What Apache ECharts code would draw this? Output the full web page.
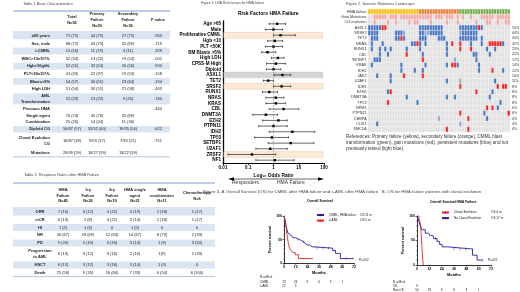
<!DOCTYPE html>
<html>
<head>
<meta charset="utf-8">
<title>HMA failure poster</title>
<script src="https://cdn.jsdelivr.net/npm/echarts@6/dist/echarts.min.js"></script>
<style>
  html, body { margin: 0; padding: 0; background: #fff; }
  #poster { width: 520px; height: 292px; }
</style>
</head>
<body>
<div id="poster"></div>
<script>
// ---- Table 1: basic characteristics ----
const t1Headers = ["Total\nN=95", "Primary\nFailure\nN=59", "Secondary\nFailure\nN=36", "P value"];
const t1Labels = ["≥65 years", "Sex, male", "t-CMML", "WBC>13x10⁹/L", "Hgb<10g/dL", "PLT<50x10⁹/L", "Blasts>5%", "High LDH",
  "AML\nTransformation", "Previous HMA", "Single agent", "Combination", "Diploid CG", "Clonal Evolution\nCG", "Mutations"];
const t1Total = ["71 (75)", "68 (72)", "15 (16)", "32 (34)", "52 (55)", "41 (43)", "54 (57)", "51 (54)", "22 (23)", "", "70 (74)", "25 (26)", "50/87 (57)", "16/87 (18)", "29/49 (59)"];
const t1Primary = ["44 (75)", "43 (73)", "11 (19)", "13 (22)", "32 (54)", "22 (37)", "30 (51)", "30 (51)", "13 (22)", "", "45 (76)", "14 (24)", "31/52 (60)", "9/53 (17)", "16/27 (59)"];
const t1Secondary = ["27 (75)", "25 (69)", "4 (11)", "19 (53)", "20 (56)", "19 (53)", "23 (64)", "21 (58)", "9 (25)", "", "25 (69)", "11 (30)", "19/35 (54)", "7/34 (21)", "13/22 (59)"];
const t1PValue = [".963", ".719", ".329", ".002", ".900", ".158", ".194", ".463", ".740", ".464", "", "", ".622", ".751", ""];

// ---- Table 2: response rates ----
const t2Headers = ["HMA\nFailure\nN=45", "1ry\nFailure\nN=26", "2ry\nFailure\nN=19", "HMA single\nagent\nN=21", "HMA\ncombination\nN=11", "Chemotherapy\nN=6"];
const t2Labels = ["ORR", "mCR", "HI", "NR", "PD", "Progression\nto AML", "HSCT", "Death"];
const t2HMA = ["7 (16)", "6 (13)", "1 (2)", "30 (67)", "9 (20)", "6 (13)", "6 (13)", "25 (56)"];
const t2Primary = ["3 (12)", "2 (8)", "1 (4)", "18 (69)", "5 (19)", "3 (12)", "3 (12)", "9 (35)"];
const t2Secondary = ["4 (21)", "4 (21)", "0", "12 (63)", "3 (16)", "3 (16)", "3 (16)", "16 (84)"];
const t2Single = ["4 (19)", "3 (14)", "1 (5)", "14 (67)", "3 (14)", "2 (10)", "3 (14)", "7 (33)"];
const t2Combo = ["2 (18)", "2 (18)", "0", "8 (73)", "1 (9)", "1(9)", "1 (9)", "6 (54)"];
const t2Chemo = ["1 (17)", "1 (17)", "0", "2 (33)", "3 (50)", "2 (33)", "0", "6 (100)"];

// ---- Figure 1: univariate odds ratios ----
const riskFactors = ["Age >65", "Male", "Proliferative CMML", "Hgb <10", "PLT <50K", "BM Blasts >5%", "High LDH", "CPSS-M High",
  "Diploid", "ASXL1", "TET2", "SRSF2", "RUNX1", "NRAS", "KRAS", "CBL", "DNMT3A", "EZH2", "PTPN11", "IDH2", "TP53", "SETBP1",
  "U2AF1", "ZRSF2", "NF1"];
const oddsRatio = [1.4, 1.0, 1.9, 1.13, 1.0, 0.58, 1.5, 1.24, 1.0, 2.25, 0.62, 2.1, 0.68, 1.24, 1.24, 2.5, 0.5, 1.57, 1.0, 5.6, 0.86, 4.8, 0.74, 0.14, 1.12];
const ciLow = [0.68, 0.48, 1.0, 0.58, 0.48, 0.34, 0.83, 0.53, 0.52, 1.06, 0.4, 1.0, 0.37, 0.5, 0.5, 0.68, 0.15, 0.37, 0.26, 0.68, 0.18, 0.62, 0.2, 0.016, 0.2];
const ciHigh = [3.0, 2.3, 7.3, 2.3, 2.3, 1.23, 2.6, 2.97, 1.95, 4.8, 1.0, 4.8, 1.43, 2.6, 3.0, 10, 1.43, 3.5, 3.5, 43, 3.9, 40, 3.5, 1.24, 6.5];

// ---- Figure 2: mutation landscape (one char per patient, groups of 10) ----
// Y/O/G failure type, p = flagged, b = persistent, r = gain, g = not previously tested, . = none
const hmaFailureRow = "YYYYYYYYYY YYYYYYYYYO OOOOOOOOOO OOOOGGGGGG GGGGGGGGGG GGG";
const gainMutRow    = "..ppppp.pp p.pppppppp pppp.ppp.p pp.p.p..p. ..ppppp.pp ppp";
const cgEvolRow     = "..p....p.. p....p.pp. ...p.....p ...p...... p...pp..p. .pp";
const mutGenes = ["ASXL1", "SRSF2", "TET2", "NRAS", "RUNX1", "CBL", "SETBP1", "KRAS", "IDH2", "JAK2", "U2AF1", "IDH1",
  "EZH2", "DNMT3A", "TP53", "NPM1", "PTPN11", "CEBPA", "CUX1", "SMC1A"];
const mutFreq = ["55%", "44%", "43%", "32%", "23%", "22%", "17%", "14%", "12%", "10%", "11%", "8%", "8%", "8%", "8%", "6%", "6%", "4%", "4%", "4%"];
const mutRows = [
  "bbbbbrr... .........b bbbbbbbb.. ....bbbbbb brb....... ...",
  "bbbb...... bbbg.....b bggbbbbb.. ....gbbbbb b......... ...",
  ".bbb...... bbrb.....b bb....bbb. ....bbbbbb b.b....... ...",
  ".b...b.... ......bbrb .b.......b .r..r...b. ..b..rrrrr b..",
  ".b..b.b.b. ....b....b .........b ....r...r. ....b..b.. ...",
  "....b..b.. ....r..... b........b .........b b....b.... ...",
  "..bbb..... .......... r......... ..g....... b......... ...",
  ".b........ ..b....... .b.......b .rrb...... .b........ ...",
  ".......... ..b....b.. b......... .......... .b....r... b..",
  "...b....b. ...r...... r......... .......... .......... ...",
  "........b. .......... .........b ....g..... .......b.. ...",
  ".......... .......... .......... ....r..... ........r. rr.",
  ".......br. .......... .......... .......... r.....b... ...",
  ".......... ....b..... .........b ..b....... .....b.... ...",
  ".......r.. ........b. .......... .......... .........b ...",
  ".......... .......... .......... .......... ....r.r.b. ...",
  ".......... .......... .......... ....r..... ...b...... ..r",
  ".......... .......... ......g... .......r.. ....b..... ...",
  "...b...... .......... .......... ....g..... .......... ...",
  ".......... .......... .........r .......r.. .......... ..."
];

// ---- Figure 3: Kaplan-Meier curves [month, % surviving] ----
const kmANames = ["CMML, HMA failure", "s-AML"];
const kmAMedian = ["OS 11 m", "OS 5 m"];
const osCmml = [[0, 100], [1, 93], [2, 82], [3, 72], [4, 64], [5, 60], [7, 57], [9, 54], [12, 51], [15, 48], [18, 45], [21, 42], [23, 39], [26, 35], [29, 32], [50, 27], [53, 21], [58, 10], [71, 10]];
const osSaml = [[0, 100], [1, 90], [1.7, 82], [2.5, 70], [3.5, 55], [4.5, 42], [5.5, 33], [7, 28], [9, 23], [11.5, 18], [15, 10], [29, 10]];
const censCmml = [[14, 51], [20, 45], [34, 32], [40, 32], [46, 32], [64, 10], [71, 10]];
const censSaml = [[29, 10]];
const kmBNames = ["Clonal Evolution", "No Clonal Evolution"];
const kmBMedian = ["OS 4 m", "OS 17 m"];
const osClonal = [[0, 100], [2, 95], [3.5, 82], [5, 30], [6, 0]];
const osNoClonal = [[0, 100], [1, 95], [2, 88], [3.5, 78], [5, 72], [8, 65], [11, 61], [13, 59], [16, 54], [19.5, 48], [22, 42], [24.5, 37], [30, 33], [52, 33], [54, 20], [58.5, 10], [63.5, 10]];
const censNoClonal = [[12, 61], [18, 54], [36, 33], [42, 33], [47, 33], [63.5, 10]];
const riskMonths = [0, 12, 24, 36, 48, 60];
const riskCmml = [73, 24, 9, 6, 3, 1];
const riskSaml = [22, 3];
const riskCE = [9];
const riskNonCE = [50, 23, 9, 6, 3, 1];

// ---- layout / styles ----
const FONT = "Liberation Sans, Arial, sans-serif";
const FONT_N = "Liberation Sans Narrow, Liberation Sans, sans-serif";
const INK = "#1a1a1a";
const SHADE = "#dbe5f1";
const RULE = "#7f9dc6";
const BLUE = "#24249a";
const RED = "#e3262b";
const t1RowH = [21, 7.6, 7.6, 7.6, 7.6, 7.6, 7.6, 7.6, 7.6, 12, 7.2, 6.8, 6.8, 7.2, 16, 8];
const t1ColX = [37, 59, 84, 115, 145];
const t1Shade = [0, 1, 0, 1, 0, 1, 0, 1, 0, 1, 0, 0, 0, 1, 0, 0];
const t2RowH = [25, 7.8, 7.8, 7.8, 7.8, 7.8, 14, 7.8, 7.8];
const t2ColX = [27, 50, 75, 99, 122, 149, 184];
const t2Shade = [0, 1, 0, 1, 0, 1, 0, 1, 0];
const forestBands = {
  "Proliferative CMML": { fill: "#fdebd9", stroke: "#e8b98c" },
  "ASXL1": { fill: "#d5d5d5", stroke: "#c4c4c4" },
  "SRSF2": { fill: "#fdebd9", stroke: "#e8b98c" },
  "ZRSF2": { fill: "#fdebd9", stroke: "#e8b98c" }
};
const cellCodes = ".bgrpYOG";
const cellColors = ["#e1e1e1", "#4472c4", "#8fa8c8", "#ff1c1c", "#f5a3a3", "#ffc000", "#ed7d31", "#70ad47"];

const sum = a => a.reduce((s, v) => s + v, 0);
function cumulative(h) { const c = [0]; h.forEach(v => c.push(c[c.length - 1] + v)); return c; }
function rule(x1, x2, y, w) { return { type: "line", shape: { x1, y1: y, x2, y2: y }, style: { stroke: RULE, lineWidth: w } }; }

function tableSeries(idx, rows, heights, colX, shade, width, labelAlign, headShift) {
  const cum = cumulative(heights);
  return {
    type: "custom", xAxisIndex: idx, yAxisIndex: idx, clip: false, silent: true,
    data: rows.map((r, i) => [0, cum[i]]),
    renderItem: (params, api) => {
      const i = params.dataIndex;
      const a = api.coord([0, cum[i]]);
      const b = api.coord([width, cum[i + 1]]);
      const cy = (a[1] + b[1]) / 2 + (i === 0 ? headShift : 0);
      const kids = [];
      if (shade[i]) kids.push({ type: "rect", shape: { x: a[0], y: a[1] + 0.4, width: b[0] - a[0], height: b[1] - a[1] - 0.8 }, style: { fill: SHADE } });
      if (i === 0) { kids.push(rule(a[0], b[0], a[1], 1)); kids.push(rule(a[0], b[0], b[1], 0.6)); }
      if (i === rows.length - 1) kids.push(rule(a[0], b[0], b[1], 0.6));
      rows[i].forEach((txt, j) => {
        if (!txt) return;
        kids.push({ type: "text", style: {
          text: txt, x: api.coord([colX[j], 0])[0], y: cy,
          align: j === 0 ? labelAlign : "center", verticalAlign: "middle",
          fontSize: 4, lineHeight: 5.8, fontWeight: (i === 0 || j === 0) ? "bold" : "normal",
          fontFamily: FONT_N, fill: INK } });
      });
      return { type: "group", children: kids };
    }
  };
}

function atRiskSeries(idx, rowNames, rows, headOff, rowOff, step) {
  const data = [];
  rows.forEach((vals, r) => vals.forEach((n, k) => data.push([riskMonths[k], r, n])));
  return {
    type: "custom", xAxisIndex: idx, yAxisIndex: idx + 1, clip: false, silent: true, data,
    renderItem: (params, api) => {
      const base = api.coord([0, 0])[1];
      const p = api.coord([api.value(0), 0]);
      const st = { fontSize: 3, fontFamily: FONT, fill: INK, verticalAlign: "middle" };
      const kids = [{ type: "text", style: Object.assign({ text: String(api.value(2)), x: p[0], y: base + rowOff + api.value(1) * step, align: "center" }, st) }];
      if (params.dataIndex === 0) {
        const lx = params.coordSys.x - 24;
        kids.push({ type: "text", style: Object.assign({ text: "N at Risk", x: lx, y: base + headOff, align: "left" }, st) });
        rowNames.forEach((nm, r) => kids.push({ type: "text", style: Object.assign({ text: nm, x: lx, y: base + rowOff + r * step, align: "left" }, st) }));
      }
      return { type: "group", children: kids };
    }
  };
}

function kmX(gridIndex) {
  return { type: "value", gridIndex, min: 0, max: 72, interval: 12,
    axisLine: { onZero: false, lineStyle: { color: "#000", width: 0.8 } },
    axisTick: { length: 1.5, lineStyle: { color: "#000", width: 0.6 } },
    axisLabel: { fontSize: 3.5, fontWeight: "bold", color: "#000", margin: 2, fontFamily: FONT },
    splitLine: { show: false },
    name: "Months", nameLocation: "middle", nameGap: 8,
    nameTextStyle: { fontSize: 3.9, fontWeight: "bold", color: "#000", fontFamily: FONT } };
}
function kmY(gridIndex) {
  return { type: "value", gridIndex, min: 0, max: 100, interval: 50,
    axisLine: { show: true, onZero: false, lineStyle: { color: "#000", width: 0.8 } },
    axisTick: { show: true, length: 1.5, lineStyle: { color: "#000", width: 0.6 } },
    minorTick: { show: true, splitNumber: 5, length: 1, lineStyle: { color: "#000", width: 0.4 } },
    axisLabel: { fontSize: 3.5, fontWeight: "bold", color: "#000", margin: 2, fontFamily: FONT },
    splitLine: { show: false },
    name: "Percent survival", nameLocation: "middle", nameGap: 9,
    nameTextStyle: { fontSize: 3.5, fontWeight: "bold", color: "#000", fontFamily: FONT } };
}
function kmLegend(names, medians, left, top, nameWidth) {
  return { data: names, left, top, orient: "vertical", padding: 0, itemWidth: 7, itemHeight: 3, itemGap: 2.6,
    selectedMode: false,
    textStyle: { fontSize: 3.1, color: INK, fontFamily: FONT,
      rich: { n: { width: nameWidth, fontSize: 3.1, fontFamily: FONT }, o: { fontSize: 3.1, fontFamily: FONT } } },
    formatter: n => `{n|${n}}{o|${medians[names.indexOf(n)]}}` };
}

// build table rows
const t1Rows = [["", ...t1Headers]].concat(t1Labels.map((l, i) => [l, t1Total[i], t1Primary[i], t1Secondary[i], t1PValue[i]]));
const t2Rows = [["", ...t2Headers]].concat(t2Labels.map((l, i) => [l, t2HMA[i], t2Primary[i], t2Secondary[i], t2Single[i], t2Combo[i], t2Chemo[i]]));

// build heatmap cells
const hmRows = [hmaFailureRow, gainMutRow, cgEvolRow, ...mutRows].map(s => s.replace(/ /g, ""));
const hmLabels = ["HMA failure", "Gain Mutations", "CG evolution", ...mutGenes];
const hmRight = ["", "", "", ...mutFreq];
const hmCols = hmRows[0].split("").map((c, i) => String(i));
const hmData = [];
hmRows.forEach((s, r) => s.split("").forEach((ch, c) => hmData.push([c, r, cellCodes.indexOf(ch)])));

const chart = echarts.init(document.getElementById("poster"));

const option = {
  animation: false,
  backgroundColor: "#fff",
  textStyle: { fontFamily: FONT },
  title: [
    { text: "Table 1 Basic Characteristics", left: 23, top: 2, padding: 0, textStyle: { fontSize: 3.9, fontWeight: "normal", color: "#444", fontFamily: FONT_N } },
    { text: "Table 2. Response Rates after HMA Failure", left: 24, top: 173, padding: 0, textStyle: { fontSize: 3.9, fontWeight: "normal", color: "#444", fontFamily: FONT_N } },
    { text: "Figure 1. UVA Risk factors for HMA failure", left: 201, top: 2, padding: 0, textStyle: { fontSize: 3.4, fontWeight: "normal", color: "#444", fontFamily: FONT_N } },
    { text: "Risk Factors HMA Failure", left: 238, top: 11, padding: 0, textStyle: { fontSize: 5, fontWeight: "bold", color: "#000", fontFamily: FONT } },
    { text: "Figure 2. Somatic Mutations Landscape", left: 346, top: 2, padding: 0, textStyle: { fontSize: 3.9, fontWeight: "normal", color: "#444", fontFamily: FONT_N } },
    { text: "References: Primary failure (yellow), secondary failure (orange), CMML blast\ntransformation (green), gain mutations (red), persistent mutations (blue) and not\npreviously tested (light blue)",
      left: 346, top: 134, padding: 0, textStyle: { fontSize: 4.6, lineHeight: 5.8, fontWeight: "normal", color: "#333", fontFamily: FONT_N } },
    { text: "Figure 3. A Overall Survival (OS) for CMML after HMA failure and s-AML after HMA failure.  B. OS for HMA failure patients with clonal evolution",
      left: 203, top: 189.5, padding: 0, textStyle: { fontSize: 4.4, fontWeight: "normal", color: "#444", fontFamily: FONT_N } },
    { text: "Overall Survival", left: 307, top: 199.5, padding: 0, textStyle: { fontSize: 3.4, fontWeight: "bold", color: "#000", fontFamily: FONT } },
    { text: "Overall Survival HMA Failure", left: 430, top: 201, padding: 0, textStyle: { fontSize: 3.4, fontWeight: "bold", color: "#000", fontFamily: FONT } }
  ],
  grid: [
    { left: 13, top: 11, width: 157, height: sum(t1RowH), outerBoundsMode: "none" },
    { left: 13, top: 183, width: 202, height: sum(t2RowH), outerBoundsMode: "none" },
    { left: 223, top: 21, width: 101, height: 142, outerBoundsMode: "none" },
    { left: 368, top: 9, width: 142, height: 123, outerBoundsMode: "none" },
    { left: 284, top: 216, width: 70, height: 47.3, outerBoundsMode: "none" },
    { left: 417, top: 216, width: 74, height: 49, outerBoundsMode: "none" }
  ],
  xAxis: [
    { type: "value", gridIndex: 0, min: 0, max: 157, show: false },
    { type: "value", gridIndex: 1, min: 0, max: 202, show: false },
    { type: "log", gridIndex: 2, logBase: 10, min: 0.01, max: 100,
      axisLine: { show: true, onZero: false, lineStyle: { color: "#000", width: 1.2 } },
      axisTick: { show: true, length: 2, lineStyle: { color: "#000", width: 0.8 } },
      axisLabel: { fontSize: 4.5, fontWeight: "bold", color: "#000", margin: 2.5, formatter: v => String(+v.toPrecision(3)) },
      splitLine: { show: false },
      name: "Log₁₀ Odds Ratio", nameLocation: "middle", nameGap: 10,
      nameTextStyle: { fontSize: 4.8, fontWeight: "bold", color: "#000" } },
    { type: "category", gridIndex: 3, data: hmCols, show: false },
    kmX(4),
    kmX(5)
  ],
  yAxis: [
    { type: "value", gridIndex: 0, min: 0, max: sum(t1RowH), inverse: true, show: false },
    { type: "value", gridIndex: 1, min: 0, max: sum(t2RowH), inverse: true, show: false },
    { type: "category", gridIndex: 2, data: riskFactors, inverse: true,
      axisLine: { onZero: false, lineStyle: { color: "#000", width: 1.3 } },
      axisTick: { alignWithLabel: true, length: 2, lineStyle: { color: "#000", width: 0.8 } },
      axisLabel: { interval: 0, fontSize: 4.6, fontWeight: "bold", color: "#000", margin: 2 } },
    { type: "category", gridIndex: 3, data: hmLabels, inverse: true,
      axisLine: { show: false }, axisTick: { show: false },
      axisLabel: { interval: 0, fontSize: 3.8, color: "#333", margin: 1.5, fontFamily: FONT_N } },
    { type: "category", gridIndex: 3, data: hmLabels, inverse: true, position: "right",
      axisLine: { show: false }, axisTick: { show: false },
      axisLabel: { interval: 0, fontSize: 3.6, color: "#333", margin: 2, fontFamily: FONT_N, formatter: (v, i) => hmRight[i] } },
    kmY(4),
    kmY(5)
  ],
  legend: [
    kmLegend(kmANames, kmAMedian, 316, 213.5, 31),
    kmLegend(kmBNames, kmBMedian, 441, 211, 37)
  ],
  series: [
    tableSeries(0, t1Rows, t1RowH, t1ColX, t1Shade, 157, "right", -1.5),
    tableSeries(1, t2Rows, t2RowH, t2ColX, t2Shade, 202, "center", 0),
    // highlighted rows of the forest plot
    { type: "custom", xAxisIndex: 2, yAxisIndex: 2, z: 1, silent: true, clip: false,
      data: riskFactors.map((f, i) => [1, i]).filter(d => forestBands[riskFactors[d[1]]]),
      renderItem: (params, api) => {
        const cs = params.coordSys;
        const band = cs.height / riskFactors.length;
        const c = api.coord([1, api.value(1)]);
        const st = forestBands[riskFactors[api.value(1)]];
        return { type: "rect", shape: { x: cs.x + 0.8, y: c[1] - band / 2, width: cs.width - 1.8, height: band },
          style: { fill: st.fill, stroke: st.stroke, lineWidth: 0.4 } };
      } },
    // odds ratio with 95% CI
    { type: "custom", xAxisIndex: 2, yAxisIndex: 2, z: 3, silent: true,
      data: riskFactors.map((f, i) => [oddsRatio[i], i, ciLow[i], ciHigh[i]]),
      renderItem: (params, api) => {
        const y = api.value(1);
        const mid = api.coord([api.value(0), y]);
        const lo = api.coord([api.value(2), y]);
        const hi = api.coord([api.value(3), y]);
        const cap = 1.1, sq = 1.2;
        const st = { stroke: "#000", lineWidth: 0.6 };
        return { type: "group", children: [
          { type: "line", shape: { x1: lo[0], y1: mid[1], x2: hi[0], y2: mid[1] }, style: st },
          { type: "line", shape: { x1: lo[0], y1: mid[1] - cap, x2: lo[0], y2: mid[1] + cap }, style: st },
          { type: "line", shape: { x1: hi[0], y1: mid[1] - cap, x2: hi[0], y2: mid[1] + cap }, style: st },
          { type: "rect", shape: { x: mid[0] - sq, y: mid[1] - sq, width: 2 * sq, height: 2 * sq }, style: { fill: "#000" } }
        ] };
      },
      markLine: { silent: true, symbol: "none", label: { show: false },
        lineStyle: { color: "#777", type: [1.5, 1.5], width: 0.6 }, data: [{ xAxis: 1 }] } },
    // mutation landscape
    { type: "custom", xAxisIndex: 3, yAxisIndex: 3, silent: true, data: hmData,
      renderItem: (params, api) => {
        const p = api.coord([api.value(0), api.value(1)]);
        const s = api.size([1, 1]);
        return { type: "rect", shape: { x: p[0] - s[0] / 2, y: p[1] - s[1] / 2, width: s[0], height: s[1] },
          style: { fill: cellColors[api.value(2)], stroke: "#f4f4f4", lineWidth: 0.4 } };
      } },
    // survival A
    { type: "line", name: kmANames[0], xAxisIndex: 4, yAxisIndex: 5, data: osCmml, step: "end", symbol: "none",
      lineStyle: { color: BLUE, width: 0.9 }, itemStyle: { color: BLUE } },
    { type: "line", name: kmANames[1], xAxisIndex: 4, yAxisIndex: 5, data: osSaml, step: "end", symbol: "none",
      lineStyle: { color: RED, width: 0.9 }, itemStyle: { color: RED } },
    { type: "scatter", xAxisIndex: 4, yAxisIndex: 5, data: censCmml, symbol: "rect", symbolSize: [0.6, 2.6], itemStyle: { color: BLUE }, silent: true },
    { type: "scatter", xAxisIndex: 4, yAxisIndex: 5, data: censSaml, symbol: "rect", symbolSize: [0.6, 2.6], itemStyle: { color: RED }, silent: true },
    atRiskSeries(4, ["CMML", "s-AML"], [riskCmml, riskSaml], 13.7, 18.4, 4.3),
    // survival B
    { type: "line", name: kmBNames[0], xAxisIndex: 5, yAxisIndex: 6, data: osClonal, step: "end", symbol: "none",
      lineStyle: { color: RED, width: 0.9 }, itemStyle: { color: RED } },
    { type: "line", name: kmBNames[1], xAxisIndex: 5, yAxisIndex: 6, data: osNoClonal, step: "end", symbol: "none",
      lineStyle: { color: BLUE, width: 0.9 }, itemStyle: { color: BLUE } },
    { type: "scatter", xAxisIndex: 5, yAxisIndex: 6, data: censNoClonal, symbol: "rect", symbolSize: [0.6, 2.6], itemStyle: { color: BLUE }, silent: true },
    atRiskSeries(5, ["CE", "Non-CE"], [riskCE, riskNonCE], 17.5, 21, 4)
  ],
  graphic: [
    { type: "line", shape: { x1: 231, y1: 179, x2: 321, y2: 179 }, style: { stroke: "#000", lineWidth: 0.6 } },
    { type: "polygon", shape: { points: [[228, 179], [234, 177.2], [234, 180.8]] }, style: { fill: "#000" } },
    { type: "polygon", shape: { points: [[324, 179], [318, 177.2], [318, 180.8]] }, style: { fill: "#000" } },
    { type: "text", left: 232, top: 180.5, style: { text: "Responders", fontSize: 5, fill: "#333", fontFamily: FONT } },
    { type: "text", left: 277, top: 180.5, style: { text: "HMA Failure", fontSize: 5, fill: "#333", fontFamily: FONT } },
    { type: "text", left: 359, top: 258.5, style: { text: "P=.002", fontSize: 3, fill: INK, fontFamily: FONT } },
    { type: "text", left: 488, top: 258.5, style: { text: "P=.021", fontSize: 3, fill: INK, fontFamily: FONT } }
  ]
};

chart.setOption(option);
</script>
</body>
</html>
